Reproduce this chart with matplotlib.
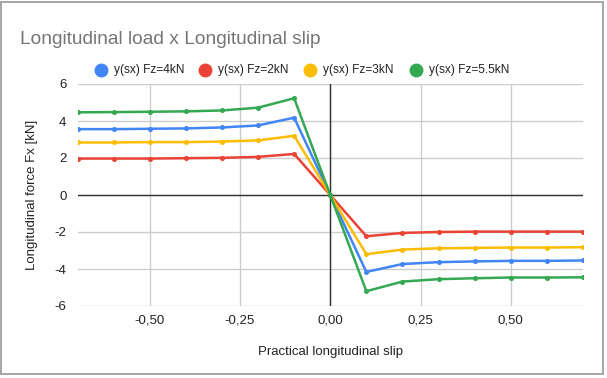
import matplotlib.pyplot as plt
from matplotlib.patches import Rectangle
from matplotlib.ticker import FuncFormatter

plt.rcParams['font.family'] = ['Liberation Sans', 'DejaVu Sans']

slip = [-0.7, -0.6, -0.5, -0.4, -0.3, -0.2, -0.1, 0.0, 0.1, 0.2, 0.3, 0.4, 0.5, 0.6, 0.7]

fx_4kn = [3.56, 3.56, 3.58, 3.60, 3.65, 3.76, 4.18, 0.0,
          -4.16, -3.73, -3.63, -3.59, -3.56, -3.56, -3.54]
fx_2kn = [1.97, 1.97, 1.97, 1.99, 2.01, 2.06, 2.22, 0.0,
          -2.23, -2.05, -2.00, -1.98, -1.98, -1.98, -1.98]
fx_3kn = [2.84, 2.84, 2.86, 2.86, 2.89, 2.95, 3.20, 0.0,
          -3.20, -2.95, -2.88, -2.86, -2.84, -2.84, -2.82]
fx_55kn = [4.47, 4.48, 4.50, 4.52, 4.57, 4.72, 5.23, 0.0,
           -5.20, -4.68, -4.55, -4.50, -4.46, -4.46, -4.45]

labels = ['y(sx) Fz=4kN', 'y(sx) Fz=2kN', 'y(sx) Fz=3kN', 'y(sx) Fz=5.5kN']
colors = ['#4285F4', '#EA4335', '#FBBC04', '#34A853']
series = [fx_4kn, fx_2kn, fx_3kn, fx_55kn]

W, H = 607, 378
fig = plt.figure(figsize=(W / 100, H / 100), dpi=100)
fig.patch.set_facecolor('white')

# chart border
fig.patches.append(Rectangle((1.5 / W, 1 - 374 / H), 601 / W, 372 / H,
                             transform=fig.transFigure, fill=False,
                             edgecolor='#9e9e9e', linewidth=1.3))

ax = fig.add_axes([77.5 / W, 1 - 306 / H, (583 - 77.5) / W, (306 - 84) / H])

for ys, c in zip(series, colors):
    ax.plot(slip, ys, color=c, linewidth=1.8, marker='o', markersize=2.6, zorder=3)

ax.set_xlim(-0.7, 0.7)
ax.set_ylim(-6, 6)
ax.set_xticks([-0.5, -0.25, 0, 0.25, 0.5])
ax.set_yticks([-6, -4, -2, 0, 2, 4, 6])
ax.xaxis.set_major_formatter(FuncFormatter(lambda v, p: ('%.2f' % v).replace('.', ',')))
ax.yaxis.set_major_formatter(FuncFormatter(lambda v, p: '%d' % v))
ax.grid(True, color='#cccccc', linewidth=1)
ax.set_axisbelow(True)
ax.axhline(0, color='#333333', linewidth=1, zorder=2)
ax.axvline(0, color='#333333', linewidth=1, zorder=2)
for s in ax.spines.values():
    s.set_visible(False)
ax.tick_params(length=0, labelsize=9.5, colors='#222222', pad=8)
ax.tick_params(axis='x', pad=6)

ax.set_xlabel('Practical longitudinal slip', fontsize=9.5, color='#222222', labelpad=14)
ax.set_ylabel('Longitudinal force Fx [kN]', fontsize=9.5, color='#222222', labelpad=12)

fig.text(20 / W, 1 - 40 / H, 'Longitudinal load x Longitudinal slip',
         fontsize=13.8, color='#757575', va='center', ha='left')

# legend, laid out by hand like the sheets chart
legend_x = [101, 205, 310, 416]
for x, c, lab in zip(legend_x, colors, labels):
    fig.lines.append(plt.Line2D([x / W], [1 - 70 / H], transform=fig.transFigure,
                                linestyle='none', marker='o', markersize=9, color=c))
    fig.text((x + 13) / W, 1 - 70 / H, lab, fontsize=8.6, color='#222222',
             va='center', ha='left')

fig.savefig('out.png', dpi=100)
